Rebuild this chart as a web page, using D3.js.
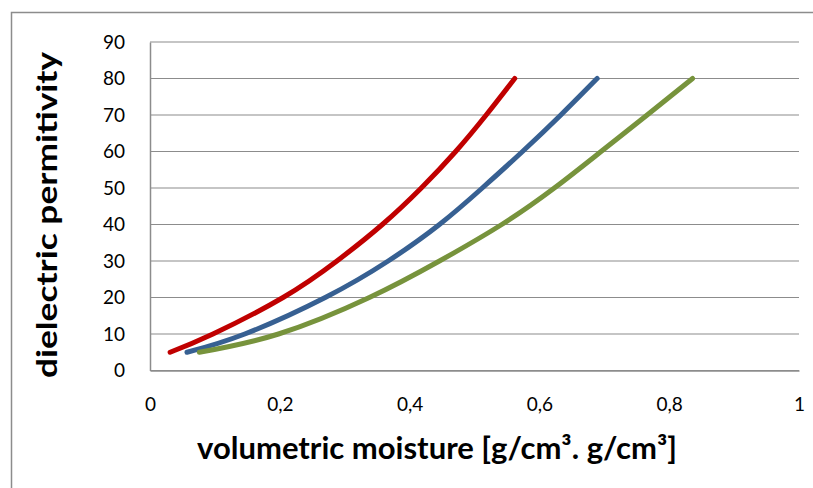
<!DOCTYPE html>
<html>
<head>
<meta charset="utf-8">
<script src="https://cdn.jsdelivr.net/npm/d3@7"></script>
<style>
  body { margin: 0; background: #fff; }
  svg { display: block; font-family: Lato, Calibri, "Open Sans", sans-serif; }
</style>
</head>
<body>
<svg id="chart"></svg>
<script>
// permittivity levels each curve was read at
const permittivity = [5, 10, 20, 30, 40, 50, 60, 70, 80];
// volumetric moisture for each level, one list per curve
const moistureRed   = [0.031, 0.097, 0.205, 0.288, 0.358, 0.418, 0.471, 0.518, 0.562];
const moistureBlue  = [0.057, 0.146, 0.270, 0.367, 0.446, 0.512, 0.574, 0.633, 0.689];
const moistureGreen = [0.076, 0.198, 0.338, 0.446, 0.542, 0.623, 0.695, 0.766, 0.836];
const seriesColors = ["#C00000", "#376092", "#77933C"];

const xTicks = [0, 0.2, 0.4, 0.6, 0.8, 1];
const yTicks = [0, 10, 20, 30, 40, 50, 60, 70, 80, 90];

const width = 813;
const height = 488;
const margin = { top: 42, right: 14, bottom: 117.5, left: 150 };
const innerWidth = width - margin.left - margin.right;
const innerHeight = height - margin.top - margin.bottom;

const svg = d3.select("#chart")
  .attr("width", width)
  .attr("height", height);

// chart area frame (only the top and left edges fall inside the picture)
svg.append("rect")
  .attr("x", 11.5)
  .attr("y", 12.5)
  .attr("width", 900)
  .attr("height", 600)
  .attr("fill", "none")
  .attr("stroke", "#8c8c8c")
  .attr("stroke-width", 1.5);

const x = d3.scaleLinear().domain([0, 1]).range([0, innerWidth]);
const y = d3.scaleLinear().domain([0, 90]).range([innerHeight, 0]);

const g = svg.append("g")
  .attr("transform", `translate(${margin.left},${margin.top})`);

// horizontal gridlines
g.append("g")
  .selectAll("line")
  .data(yTicks)
  .enter()
  .append("line")
  .attr("x1", 0)
  .attr("x2", innerWidth)
  .attr("y1", d => y(d))
  .attr("y2", d => y(d))
  .attr("stroke", "#8c8c8c")
  .attr("stroke-width", 1.2);

// y axis
const yAxis = d3.axisLeft(y)
  .tickValues(yTicks)
  .tickSize(0)
  .tickPadding(25)
  .tickFormat(d3.format("d"));

g.append("g")
  .call(yAxis)
  .call(s => s.select(".domain").attr("stroke", "#8c8c8c").attr("stroke-width", 1.5))
  .selectAll("text")
  .attr("font-size", 19)
  .attr("font-family", "Lato, Calibri, sans-serif")
  .attr("fill", "#000");

// x axis
const xAxis = d3.axisBottom(x)
  .tickValues(xTicks)
  .tickSize(0)
  .tickPadding(27)
  .tickFormat(d => d === 0 || d === 1 ? String(d) : d3.format(".1f")(d).replace(".", ","));

g.append("g")
  .attr("transform", `translate(0,${innerHeight})`)
  .call(xAxis)
  .call(s => s.select(".domain").attr("stroke", "#8c8c8c").attr("stroke-width", 1.5))
  .selectAll("text")
  .attr("font-size", 19)
  .attr("font-family", "Lato, Calibri, sans-serif")
  .attr("fill", "#000");

// curves
const series = [moistureRed, moistureBlue, moistureGreen];
const line = d3.line()
  .x(d => x(d[0]))
  .y(d => y(d[1]))
  .curve(d3.curveNatural);

series.forEach((xs, i) => {
  g.append("path")
    .datum(xs.map((v, j) => [v, permittivity[j]]))
    .attr("d", line)
    .attr("fill", "none")
    .attr("stroke", seriesColors[i])
    .attr("stroke-width", 5)
    .attr("stroke-linecap", "round")
    .attr("stroke-linejoin", "round");
});

// axis titles
svg.append("text")
  .attr("transform", "translate(57,215) rotate(-90)")
  .attr("text-anchor", "middle")
  .attr("font-size", 29)
  .attr("font-weight", "bold")
  .attr("textLength", 326)
  .attr("lengthAdjust", "spacingAndGlyphs")
  .text("dielectric permitivity");

svg.append("text")
  .attr("x", 437)
  .attr("y", 459)
  .attr("text-anchor", "middle")
  .attr("font-size", 30)
  .attr("font-weight", "bold")
  .attr("textLength", 480)
  .attr("lengthAdjust", "spacingAndGlyphs")
  .text("volumetric moisture [g/cm³. g/cm³]");
</script>
</body>
</html>
